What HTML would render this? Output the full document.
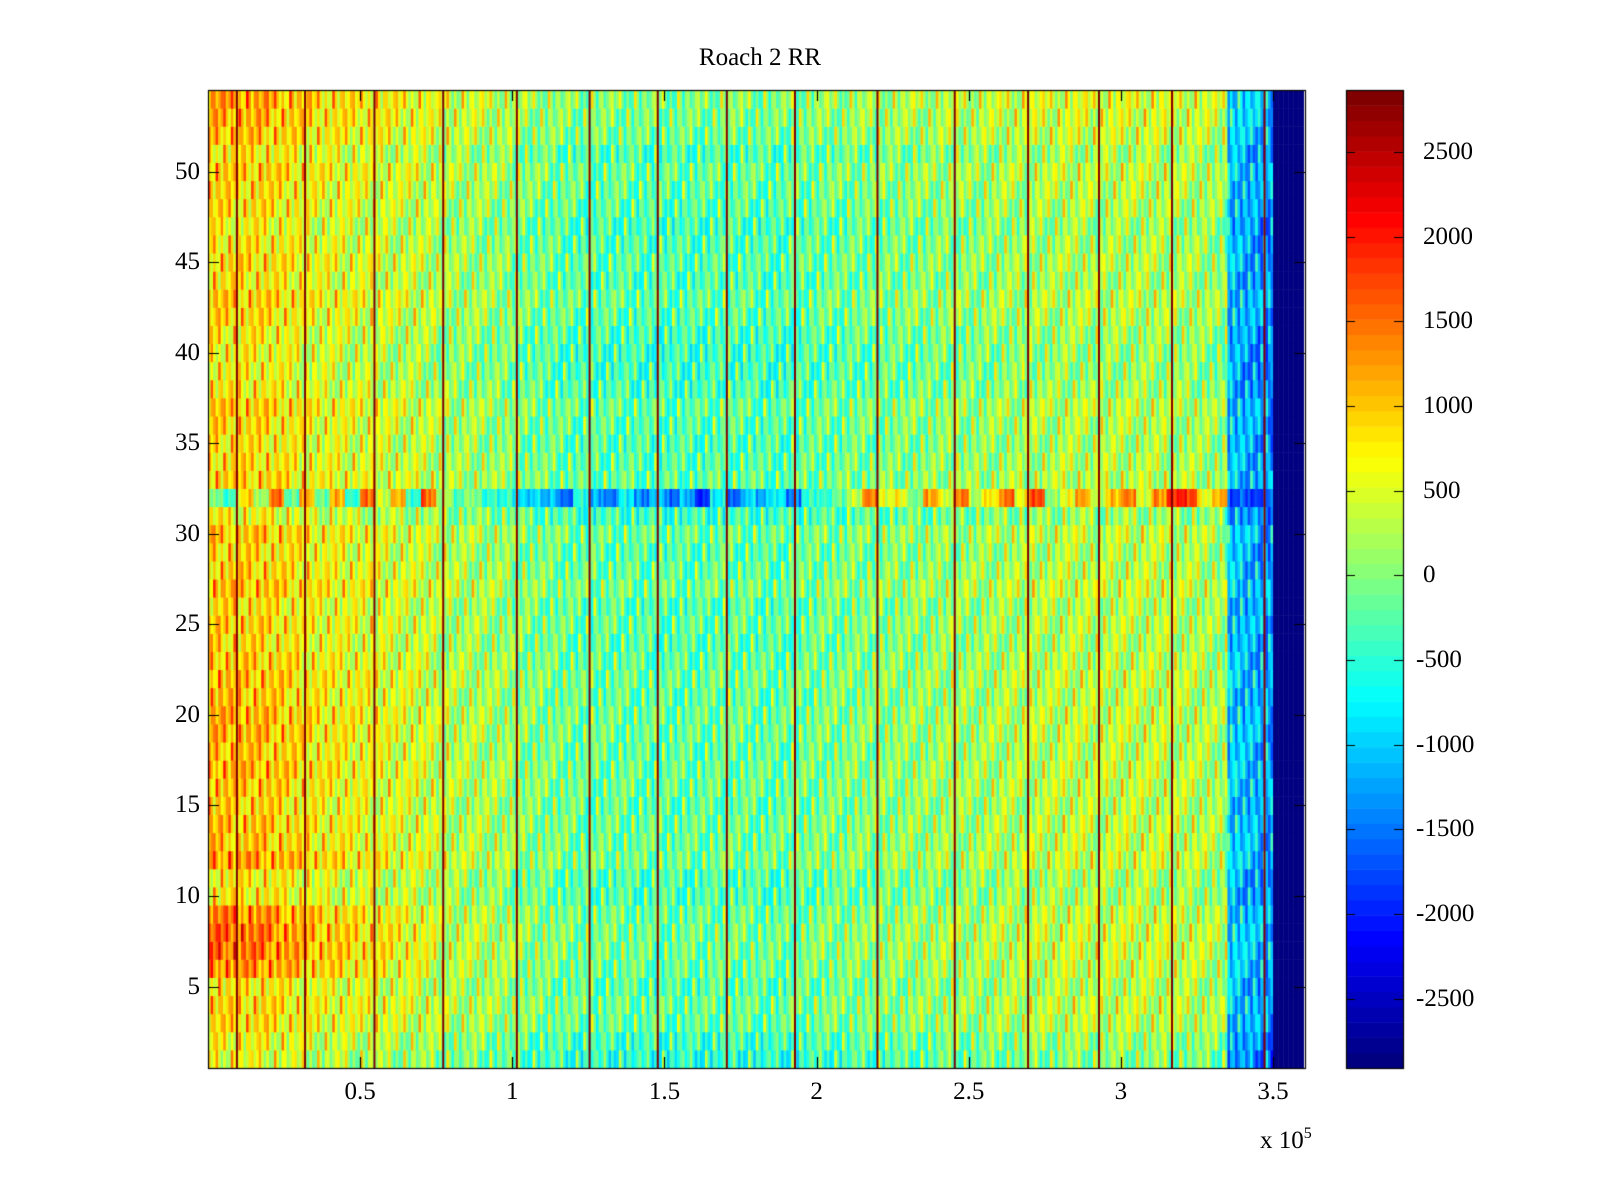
<!DOCTYPE html>
<html><head><meta charset="utf-8"><style>
html,body{margin:0;padding:0;background:#fff;}
#wrap{position:relative;width:1600px;height:1200px;overflow:hidden;font-family:"Liberation Serif",serif;color:#000;}
.t{position:absolute;font-size:25px;line-height:1;white-space:nowrap;}
</style></head><body>
<div id="wrap">
<div class="t" style="left:760px;top:45px;transform:translateX(-50%);">Roach 2 RR</div>
<canvas id="hm" width="1600" height="1200" style="position:absolute;left:0;top:0"></canvas>
<div id="labels"></div>
<div class="t" style="left:1260px;top:1126px;">x 10<sup style="font-size:16px;vertical-align:10px;">5</sup></div>
</div>
<script>
// ---- data ----
const blockWidth = 0.05; // x10^5 per block
const colTrend = [800,780,750,780,700,650, 550,500,500,450,450, 400,350,350,300, 200,150,150,100,50,
 -50,-100,-150,-200,-250,-250,-250,-250,-300,-300, -300,-300,-300,-250,-250,-250,-300,-300,-250,-200,
 -150,-150,-100,-100,-50,-50,0,0,50,50, 50,100,150,150,200,200,250,250,200,250,
 250,250,250,200,200,150,100, -1100,-1200,-1300, -2900,-2900];
const rowOffset = [-250,-150,50,100,0,100,150,150,100,-50,-50,150,100,100,50,100,100,50,100,100,
 50,100,50,0,50,0,150,50,0,100,-150,0,50,0,-50,0,50,-100,-150,-150,
 -100,0,50,-50,0,-50,-100,0,50,100,-50,150,200,250];
const rowLeftBoost = [0,0,0,0,0,500,650,650,550,0,0,350,150,150,100,150,250,200,250,250,
 200,200,150,100,100,50,100,100,100,150,0,0,100,50,50,100,150,50,50,50,
 50,100,150,50,100,50,0,50,50,100,50,100,150,200];
const row32 = [0,-400,800,200,1500,-300, 1200,-200,1000,-400,1500, 300,1200,-500,1500, 200,-300,0,-500,-600,
 -800,-1000,-1200,-1500,-600,-1300,-1400,-800,-1500,-1000, -1600,-1200,-1900,-800,-1600,-1000,-1200,-700,-1500,-600,
 -400,-200,200,1500,500,600,0,1200,400,1500, 200,800,1500,600,1800,0,500,1300,300,900,
 1500,400,1200,2000,1800,600,1200, -1800,-1800,-1700, -2900,-2900];
const detail = [450,-520,120,-80,700,-350,250,-180,40,-550,330,-60,900,-300,90,-450,200];
const stripes = [0.095,0.319,0.547,0.773,1.015,1.254,1.478,1.705,1.929,2.2,2.454,2.695,2.928,3.168,3.472];
const xTicks = [0.5,1,1.5,2,2.5,3,3.5];
const xTickLabels = ["0.5","1","1.5","2","2.5","3","3.5"];
const yTicks = [5,10,15,20,25,30,35,40,45,50];
const cTicks = [-2500,-2000,-1500,-1000,-500,0,500,1000,1500,2000,2500];
const cmin = -2910, cmax = 2866;
// ---- geometry ----
const L=208,R=1305,T=90,B=1068, xmin=0,xmax=3.605, ymin=0.5,ymax=54.5;
const CL=1346,CR=1403;
const xs=v=>L+(v-xmin)/(xmax-xmin)*(R-L);
const ys=v=>B-(v-ymin)/(ymax-ymin)*(B-T);
const cs=v=>B-(v-cmin)/(cmax-cmin)*(B-T);
function jet(v){
  let t=(v-cmin)/(cmax-cmin); t=Math.max(0,Math.min(1,t));
  t=Math.min(63,Math.floor(t*64))/63;
  const r=Math.max(0,Math.min(1,1.5-Math.abs(4*t-3)));
  const g=Math.max(0,Math.min(1,1.5-Math.abs(4*t-2)));
  const b=Math.max(0,Math.min(1,1.5-Math.abs(4*t-1)));
  return `rgb(${Math.round(r*255)},${Math.round(g*255)},${Math.round(b*255)})`;
}
const cv=document.getElementById('hm'), ctx=cv.getContext('2d');
const sub=6, nRows=rowOffset.length;
for(let r=0;r<nRows;r++){
  const y0=ys(r+1.5), y1=ys(r+0.5);
  for(let b=0;b<colTrend.length;b++){
    for(let s=0;s<sub;s++){
      const c=b*sub+s;
      const xc=(b+0.5)*blockWidth;
      let v;
      if(colTrend[b]<=-2800) v=colTrend[b];
      else if(r===31) v=row32[b]+detail[(c*5)%detail.length]*0.5;
      else {
        const w=Math.max(0,1-xc/0.8);
        v=colTrend[b]+rowOffset[r]+rowLeftBoost[r]*w+detail[(c*7+r*13)%detail.length];
      }
      const x0=xs((b+s/sub)*blockWidth), x1=xs((b+(s+1)/sub)*blockWidth);
      ctx.fillStyle=jet(v);
      ctx.fillRect(x0,y0,Math.min(x1,R)-x0+0.5,y1-y0+0.5);
    }
  }
}
stripes.forEach(s=>{ctx.fillStyle=jet(cmax);ctx.fillRect(xs(s)-1,T,2,B-T);});
// axes box and ticks
ctx.strokeStyle='#000';ctx.lineWidth=1.2;
ctx.strokeRect(L+0.5,T+0.5,R-L,B-T);
xTicks.forEach(t=>{const x=Math.round(xs(t))+0.5;ctx.beginPath();ctx.moveTo(x,B);ctx.lineTo(x,B-11);ctx.moveTo(x,T);ctx.lineTo(x,T+11);ctx.stroke();});
yTicks.forEach(t=>{const y=Math.round(ys(t))+0.5;ctx.beginPath();ctx.moveTo(L,y);ctx.lineTo(L+11,y);ctx.moveTo(R,y);ctx.lineTo(R-11,y);ctx.stroke();});
// colorbar
for(let i=0;i<64;i++){const v0=cmin+(cmax-cmin)*i/64,v1=cmin+(cmax-cmin)*(i+1)/64;ctx.fillStyle=jet((v0+v1)/2);ctx.fillRect(CL,cs(v1),CR-CL,cs(v0)-cs(v1)+0.5);}
ctx.strokeRect(CL+0.5,T+0.5,CR-CL,B-T);
cTicks.forEach(t=>{const y=Math.round(cs(t))+0.5;ctx.beginPath();ctx.moveTo(CL,y);ctx.lineTo(CL+9,y);ctx.moveTo(CR,y);ctx.lineTo(CR-9,y);ctx.stroke();});
// labels
const lab=document.getElementById('labels');
xTicks.forEach((t,i)=>{const d=document.createElement('div');d.className='t';d.textContent=xTickLabels[i];


d.style.left=xs(t)+'px';d.style.top='1079px';d.style.transform='translateX(-50%)';lab.appendChild(d);});
yTicks.forEach(t=>{const d=document.createElement('div');d.className='t';d.textContent=String(t);


d.style.right=(1600-200)+'px';d.style.top=(ys(t)-13)+'px';lab.appendChild(d);});
cTicks.forEach(t=>{const d=document.createElement('div');d.className='t';d.textContent=String(t);


d.style.left=(t<0?1416:1423)+'px';d.style.top=(cs(t)-13)+'px';lab.appendChild(d);});
</script>
</body></html>
